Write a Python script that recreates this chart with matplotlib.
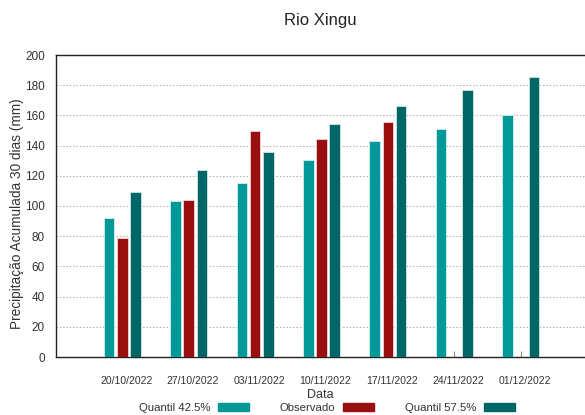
import numpy as np
import matplotlib
matplotlib.use("Agg")
import matplotlib.pyplot as plt
from matplotlib.patches import Patch
import matplotlib.transforms as mtransforms

plt.rcParams['font.family'] = ['Liberation Sans Narrow', 'Liberation Sans', 'DejaVu Sans']

datas = ['20/10/2022', '27/10/2022', '03/11/2022', '10/11/2022',
         '17/11/2022', '24/11/2022', '01/12/2022']
quantil_425 = [92, 103, 115, 130.5, 143, 151, 160]
observado = [78.5, 104, 149.5, 144.5, 155.5, np.nan, np.nan]
quantil_575 = [109, 124, 136, 154.5, 166.5, 176.5, 185.5]

cor_q42 = '#009999'
cor_obs = '#990f0f'
cor_q57 = '#006666'
txt = '#333333'

fig = plt.figure(figsize=(5.85, 4.15), dpi=100)
ax = fig.add_axes([56/585, 58/415, 529/585, 302/415])

x = np.arange(len(datas))
w = 0.16
off = 0.2
ax.bar(x - off, quantil_425, w, color=cor_q42, edgecolor='#d6eeee', linewidth=0.6, zorder=3)
ax.bar(x, observado, w, color=cor_obs, edgecolor='#eed6d6', linewidth=0.6, zorder=3)
ax.bar(x + off, quantil_575, w, color=cor_q57, edgecolor='#d6e6e6', linewidth=0.6, zorder=3)

ax.set_xlim(-1, 6.97)
ax.set_ylim(0, 200)
ax.set_yticks(range(0, 201, 20))
ax.set_xticks(x)
ax.set_xticklabels(datas)
ax.yaxis.grid(True, linestyle=(0, (1.2, 1.8)), color='#aaaaaa', linewidth=0.8, zorder=0)

ax.tick_params(axis='x', direction='in', length=4, color='#888888', pad=14,
               labelsize=7.5, labelcolor=txt)
ax.tick_params(axis='y', length=0, pad=8, labelsize=8.5, labelcolor=txt)
shift = mtransforms.ScaledTranslation(4/100, 0, fig.dpi_scale_trans)
for lab in ax.get_xticklabels():
    lab.set_transform(lab.get_transform() + shift)

for s in ['left', 'bottom', 'top']:
    ax.spines[s].set_color('#222222')
    ax.spines[s].set_linewidth(1.0)
ax.spines['right'].set_visible(False)

fig.text(17/585, 1 - 214/415, 'Precipitação Acumulada 30 dias (mm)', rotation=90,
         ha='center', va='center', fontsize=9.8, color=txt)
fig.text(320/585, 1 - 395/415, 'Data', ha='center', va='center', fontsize=9, color=txt)
fig.text(320/585, 1 - 21/415, 'Rio Xingu', ha='center', va='center', fontsize=12, color='#222222')

handles = [Patch(color=cor_q42), Patch(color=cor_obs), Patch(color=cor_q57)]
labels = ['Quantil 42.5%', 'Observado', 'Quantil 57.5%']
fig.legend(handles, labels, loc='center', bbox_to_anchor=(327/585, 1 - 408/415),
           ncol=3, frameon=False, markerfirst=False, fontsize=8.2,
           handlelength=2.7, handleheight=0.6, columnspacing=2.7, handletextpad=0.7,
           labelcolor=txt)

fig.savefig('out.png', dpi=100)
